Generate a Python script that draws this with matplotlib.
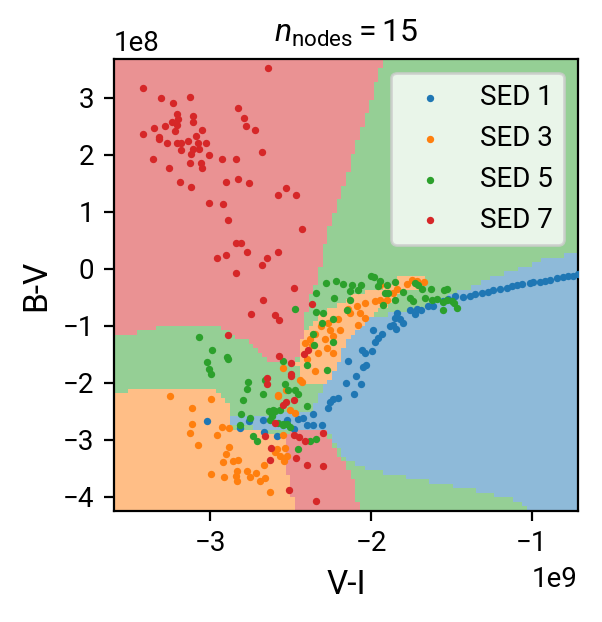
import numpy as np
import matplotlib
matplotlib.use('Agg')
import matplotlib.pyplot as plt
from matplotlib.path import Path
from matplotlib.colors import ListedColormap

plt.rcParams['font.family'] = ['Roboto', 'DejaVu Sans']
plt.rcParams['mathtext.fontset'] = 'custom'
plt.rcParams['mathtext.rm'] = 'Roboto'
plt.rcParams['mathtext.it'] = 'Roboto:italic'
plt.rcParams['mathtext.bf'] = 'Roboto:bold'

labels = ['SED 1', 'SED 3', 'SED 5', 'SED 7']
colors = ['#1f77b4', '#ff7f0e', '#2ca02c', '#d62728']
title = r'$n_{\rm nodes} = 15$'

# V-I in units of 1e9, B-V in units of 1e8
sed1_vi = [-0.71, -0.741, -0.772, -0.803, -0.844, -0.886, -0.917, -0.948, -0.990, -1.011,
           -1.062, -1.093, -1.124, -1.156, -1.197, -1.239, -1.270, -1.311, -1.353, -1.384,
           -1.426, -1.477, -1.519, -1.550, -1.612, -1.643, -1.691, -1.716, -1.757, -1.726,
           -1.836, -1.851, -1.820, -1.799, -1.861, -1.844, -1.882, -1.986, -1.933, -1.955,
           -1.975, -1.996, -2.058, -2.037, -2.141, -2.052, -2.033, -2.095, -2.157, -2.062,
           -2.104, -2.207, -2.238, -2.255, -2.269, -2.359, -2.421, -2.452, -2.400, -2.359,
           -2.303, -2.583, -2.479, -3.019, -2.815, -2.759, -2.670, -2.664, -2.525]
sed1_bv = [-0.10, -0.12, -0.13, -0.15, -0.16, -0.19, -0.21, -0.23, -0.23, -0.25,
           -0.26, -0.29, -0.31, -0.33, -0.35, -0.38, -0.40, -0.43, -0.45, -0.48,
           -0.49, -0.48, -0.53, -0.57, -0.66, -0.66, -0.73, -0.70, -0.72, -0.80,
           -0.77, -0.87, -0.89, -0.96, -0.98, -1.05, -1.01, -1.08, -1.15, -1.21,
           -1.28, -1.45, -1.42, -1.48, -1.61, -1.73, -1.68, -1.89, -2.00, -2.03,
           -2.20, -2.26, -2.28, -2.34, -2.44, -2.55, -2.61, -2.64, -2.75, -2.74,
           -2.74, -2.93, -2.82, -2.67, -2.79, -2.67, -2.65, -2.87, -2.66]

sed3_vi = [-1.774, -1.747, -1.716, -1.670, -1.840, -1.861, -1.902, -1.944, -1.975, -2.037,
           -2.068, -2.131, -2.203, -2.037, -2.079, -2.266, -2.255, -2.193, -2.348, -2.235,
           -2.286, -2.411, -2.276, -2.328, -2.235, -2.400, -2.348, -2.431, -1.944, -2.085,
           -2.141, -2.313, -2.380, -2.369, -2.549, -2.442, -2.577, -2.529, -2.504, -2.473,
           -2.546, -2.597, -2.535, -2.566, -2.525, -2.540, -3.251, -3.112, -2.996, -3.112,
           -3.126, -3.075, -2.960, -2.925, -2.882, -2.882, -2.904, -2.919, -2.861, -2.826,
           -2.996, -2.913, -2.842, -2.836, -2.832, -2.770, -2.753, -2.718, -2.691, -2.660,
           -2.666, -2.629, -2.587, -2.581]
sed3_bv = [-0.26, -0.19, -0.22, -0.24, -0.36, -0.42, -0.54, -0.54, -0.57, -0.60,
           -0.77, -0.77, -0.89, -0.86, -0.98, -0.95, -1.07, -1.07, -1.15, -1.18,
           -1.24, -1.30, -1.39, -1.48, -1.48, -1.59, -1.80, -1.98, -0.28, -0.65,
           -0.70, -1.00, -1.23, -1.33, -1.74, -1.96, -2.24, -2.12, -2.47, -2.53,
           -2.91, -3.21, -3.15, -3.29, -3.29, -3.38, -2.24, -2.44, -2.28, -2.72,
           -2.88, -3.09, -2.91, -2.78, -2.79, -3.13, -3.25, -3.39, -3.38, -3.35,
           -3.60, -3.66, -3.63, -3.54, -3.73, -3.54, -3.66, -3.59, -3.72, -3.67,
           -3.44, -3.91, -3.16, -2.22]

sed5_vi = [-2.280, -2.218, -2.172, -2.120, -2.062, -2.002, -1.981, -1.944, -1.899, -1.851,
           -2.131, -2.079, -1.955, -1.913, -1.892, -1.851, -1.923, -1.799, -1.757, -1.737,
           -1.726, -1.706, -1.684, -1.627, -1.664, -1.622, -1.591, -1.550, -1.546, -1.529,
           -1.529, -1.498, -1.483, -1.467, -1.550, -2.342, -2.228, -2.131, -2.151, -2.342,
           -2.297, -2.307, -2.235, -2.355, -2.235, -2.276, -2.473, -2.359, -2.396, -2.546,
           -2.535, -2.515, -2.473, -2.452, -2.400, -2.612, -2.618, -2.577, -2.504, -2.546,
           -2.380, -2.342, -2.456, -3.068, -2.988, -3.019, -3.008, -2.996, -2.898, -2.892,
           -2.764, -2.770, -2.674, -2.795, -2.809, -2.753, -2.815, -2.732, -2.708, -2.660,
           -2.633, -2.618, -2.629, -2.597, -2.566, -2.549, -2.525]
sed5_bv = [-0.25, -0.22, -0.26, -0.29, -0.28, -0.13, -0.14, -0.22, -0.29, -0.23,
           -0.39, -0.38, -0.31, -0.42, -0.43, -0.54, -0.63, -0.40, -0.51, -0.57,
           -0.25, -0.29, -0.35, -0.35, -0.52, -0.55, -0.53, -0.59, -0.38, -0.36,
           -0.54, -0.57, -0.60, -0.69, -0.72, -0.42, -0.51, -0.55, -0.72, -0.75,
           -0.77, -0.95, -0.89, -1.33, -1.28, -1.77, -0.70, -1.14, -1.68, -1.61,
           -2.03, -2.12, -2.12, -2.20, -2.40, -2.47, -2.56, -2.71, -2.77, -2.74,
           -3.02, -2.98, -3.16, -1.20, -1.42, -1.64, -1.76, -1.85, -1.55, -1.59,
           -1.99, -2.11, -2.20, -2.31, -2.55, -2.62, -2.74, -2.93, -3.03, -1.95,
           -2.50, -2.59, -2.66, -2.50, -2.47, -2.72, -2.72]

sed7_vi = [-2.64, -3.42, -3.31, -3.13, -3.23, -2.83, -3.21, -3.11, -2.79, -3.20,
           -3.24, -3.11, -3.28, -3.21, -2.78, -3.35, -3.05, -2.72, -3.22, -3.42,
           -3.32, -3.32, -3.09, -3.14, -3.27, -3.21, -3.18, -3.08, -3.03, -3.11,
           -3.07, -3.18, -3.12, -3.01, -2.68, -3.36, -2.93, -2.84, -3.13, -3.06,
           -3.26, -3.05, -3.19, -2.90, -2.83, -2.76, -3.12, -2.53, -2.58, -2.47,
           -3.01, -2.92, -2.89, -2.43, -2.84, -2.81, -2.77, -2.90, -2.96, -2.58,
           -2.65, -2.68, -2.84, -2.48, -2.37, -2.67, -2.75, -2.60, -2.57, -2.89,
           -2.57, -2.42, -2.39, -2.50, -2.50, -2.50, -2.65, -2.65, -2.48, -2.53,
           -2.55, -2.60, -2.48, -2.45, -2.41, -2.30, -2.66, -2.62, -2.47, -2.63,
           -2.40, -2.30, -2.51, -2.34]
sed7_bv = [3.52, 3.18, 2.99, 3.02, 2.90, 2.82, 2.72, 2.68, 2.64, 2.63,
           2.58, 2.58, 2.51, 2.52, 2.51, 2.47, 2.43, 2.43, 2.41, 2.36,
           2.32, 2.28, 2.33, 2.25, 2.21, 2.20, 2.21, 2.20, 2.21, 2.11,
           2.10, 2.09, 2.02, 2.00, 2.04, 1.92, 1.93, 1.93, 1.86, 1.86,
           1.76, 1.76, 1.53, 1.53, 1.58, 1.51, 1.44, 1.42, 1.30, 1.30,
           1.16, 1.14, 0.86, 0.70, 0.46, 0.46, 0.30, 0.25, 0.19, 0.30,
           0.19, 0.07, -0.07, -0.33, -0.62, -0.54, -0.79, -0.81, -0.90, -1.16,
           -1.53, -1.49, -1.42, -1.65, -1.84, -1.89, -1.92, -2.03, -2.30, -2.33,
           -2.39, -2.71, -2.91, -2.96, -3.02, -2.89, -2.93, -3.15, -3.32, -3.35,
           -3.44, -3.46, -3.88, -4.07]

# Classifier decision regions (boundaries), same units
region_blue_vi = [-0.6, -0.886, -0.967, -1.135, -1.309, -1.446, -1.571, -1.714, -1.863, -2.025,
                  -2.131, -2.174, -2.212, -2.255, -2.317, -2.361, -2.504, -2.722, -2.958, -2.958,
                  -2.722, -2.535, -2.442, -2.286, -2.236, -2.193, -2.131, -2.006, -1.714, -1.446,
                  -1.154, -1.054, -0.980, -0.6]
region_blue_bv = [0.30, 0.20, 0.11, -0.05, -0.22, -0.40, -0.57, -0.72, -0.77, -0.89,
                  -1.07, -1.19, -1.59, -1.89, -2.17, -2.47, -2.53, -2.56, -2.60, -2.72,
                  -2.79, -2.86, -2.79, -2.82, -3.00, -3.21, -3.39, -3.53, -3.70, -3.84,
                  -4.02, -4.14, -4.4, -4.4]
region_blue_edge_vi = [-3.7, -3.57, -3.57, -3.7]
region_blue_edge_bv = [-2.17, -2.17, -2.42, -2.42]
region_orange_low_vi = [-3.7, -3.232, -2.971, -2.927, -2.902, -2.877, -2.877, -2.517, -2.535,
                        -2.523, -2.492, -2.473, -3.7]
region_orange_low_bv = [-2.17, -2.12, -2.12, -2.21, -2.33, -2.44, -2.83, -2.88, -3.18,
                        -3.53, -3.88, -4.4, -4.4]
region_orange_band_vi = [-2.442, -2.411, -2.380, -2.336, -2.299, -2.212, -2.131, -2.050, -1.963,
                         -1.900, -1.838, -1.757, -1.664, -1.664, -1.820, -1.900, -1.975, -2.050,
                         -2.131, -2.174, -2.224, -2.274, -2.380, -2.442, -2.460]
region_orange_band_bv = [-1.33, -1.12, -1.01, -0.86, -0.75, -0.63, -0.50, -0.42, -0.36,
                         -0.28, -0.17, -0.12, -0.12, -0.28, -0.45, -0.63, -0.80, -1.01,
                         -1.19, -1.42, -1.77, -2.00, -2.03, -1.95, -1.68]
region_red_top_vi = [-3.7, -1.905, -2.299, -2.330, -2.367, -2.411, -2.411, -2.442, -2.460, -2.535,
                     -2.597, -2.647, -2.734, -2.877, -2.940, -3.251, -3.394, -3.518, -3.7]
region_red_top_bv = [3.8, 3.8, 0.34, -0.22, -0.42, -0.84, -1.12, -1.33, -1.59, -1.65,
                     -1.68, -1.59, -1.33, -1.15, -1.01, -1.00, -1.07, -1.15, -1.24]
region_red_low_vi = [-2.517, -2.442, -2.286, -2.255, -2.212, -2.180, -2.131, -2.100, -2.068,
                     -2.473, -2.492, -2.523, -2.535]
region_red_low_bv = [-2.88, -2.82, -2.82, -3.00, -3.21, -3.35, -3.56, -3.79, -4.4,
                     -4.4, -3.88, -3.53, -3.18]

XSCALE, YSCALE = 1e9, 1e8
xlim = (-3.6 * XSCALE, -0.712 * XSCALE)
ylim = (-4.25 * YSCALE, 3.68 * YSCALE)

fig = plt.figure(figsize=(3.01, 3.11), dpi=200)
ax = fig.add_axes([0.1894, 0.1785, 0.7706, 0.7266])

# rasterise the decision regions onto a grid
nx, ny = 100, 100
xe = np.linspace(xlim[0], xlim[1], nx + 1)
ye = np.linspace(ylim[0], ylim[1], ny + 1)
xc = 0.5 * (xe[:-1] + xe[1:])
yc = 0.5 * (ye[:-1] + ye[1:])
XX, YY = np.meshgrid(xc, yc)
pts = np.column_stack([XX.ravel() / XSCALE, YY.ravel() / YSCALE])
Z = np.full(XX.size, 2)
for cls, vi, bv in [(0, region_blue_vi, region_blue_bv),
                    (0, region_blue_edge_vi, region_blue_edge_bv),
                    (1, region_orange_low_vi, region_orange_low_bv),
                    (1, region_orange_band_vi, region_orange_band_bv),
                    (3, region_red_top_vi, region_red_top_bv),
                    (3, region_red_low_vi, region_red_low_bv)]:
    path = Path(np.column_stack([vi, bv]), closed=False)
    Z[path.contains_points(pts)] = cls
Z = Z.reshape(XX.shape)
ax.pcolormesh(xe, ye, Z, cmap=ListedColormap(colors), vmin=-0.5, vmax=3.5,
              alpha=0.5, shading='flat', edgecolors='none', antialiased=False)

for lab, col, vi, bv in [(labels[0], colors[0], sed1_vi, sed1_bv),
                         (labels[1], colors[1], sed3_vi, sed3_bv),
                         (labels[2], colors[2], sed5_vi, sed5_bv),
                         (labels[3], colors[3], sed7_vi, sed7_bv)]:
    ax.scatter(np.array(vi) * XSCALE, np.array(bv) * YSCALE, s=7, c=col,
               linewidths=0, label=lab, zorder=3)

ax.set_xlim(xlim)
ax.set_ylim(ylim)
ax.set_xlabel('V-I', fontsize=12)
ax.set_ylabel('B-V', fontsize=12)
ax.set_title(title, fontsize=11.5)
ax.tick_params(labelsize=10)
ax.legend(loc='upper right', fontsize=10)

fig.savefig('out.png', dpi=200)
